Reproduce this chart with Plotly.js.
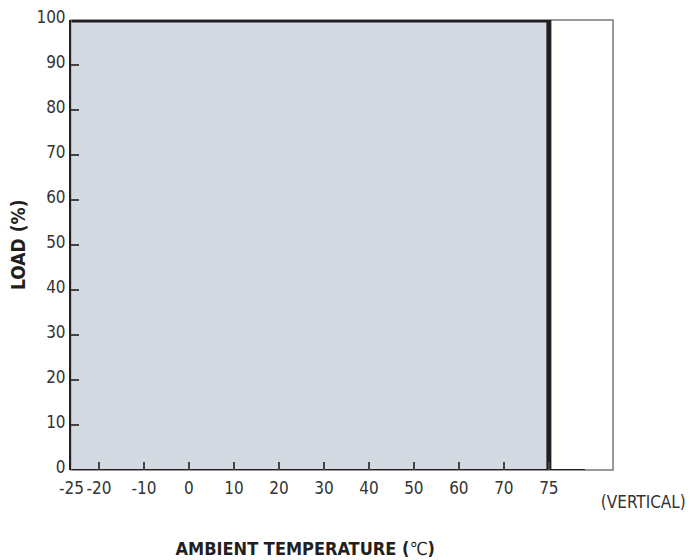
<!DOCTYPE html>
<html>
<head>
<meta charset="utf-8">
<script src="https://cdn.plot.ly/plotly-3.0.1.min.js"></script>
<style>html,body{margin:0;padding:0;background:#fff;}#chart{width:690px;height:560px;}
#chart text {font-stretch: condensed;}
</style>
</head>
<body>
<div id="chart"></div>
<script>
// ---- data ----
const curveTemp = [-25, 75, 75];     // derating curve, ambient temperature (°C)
const curveLoad = [100, 100, 0];     // load (%)
const baseTemp = [-25, 79];          // curve continues along 0 % load
const baseLoad = [0, 0];
const xTickTemps = [-25, -20, -10, 0, 10, 20, 30, 40, 50, 60, 70, 75];
const xTickText = ['-25', '-20', '-10', '0', '10', '20', '30', '40', '50', '60', '70', '75'];
const yTicks = [0, 10, 20, 30, 40, 50, 60, 70, 80, 90, 100];

// The printed temperature scale is not uniform: the -25 and 75 steps are drawn
// stretched. Map temperature to the drawn scale piecewise.
function pos(t) {
  if (t > 70) return 70 + (t - 70) * 2;
  if (t < -20) return -20 + (t + 20) * 1.22;
  return t;
}

const ink = '#231f20';
const fam = '"DejaVu Sans", sans-serif';

const traces = [
  {
    x: curveTemp.slice(0, 2).map(pos), y: curveLoad.slice(0, 2),
    type: 'scatter', mode: 'lines', fill: 'tozeroy', fillcolor: '#d3dae2',
    line: {width: 0, color: 'rgba(0,0,0,0)'}, hoverinfo: 'skip', showlegend: false
  },
  {
    x: baseTemp.map(pos), y: baseLoad,
    type: 'scatter', mode: 'lines', line: {color: ink, width: 2.2},
    showlegend: false, cliponaxis: false
  },
  {
    x: curveTemp.map(pos), y: curveLoad,
    type: 'scatter', mode: 'lines', line: {color: ink, width: 5},
    showlegend: false, cliponaxis: false
  }
];

const layout = {
  width: 690, height: 560,
  margin: {l: 71, r: 77, t: 20, b: 90},
  paper_bgcolor: '#ffffff', plot_bgcolor: '#ffffff',
  showlegend: false,
  font: {family: fam, size: 17, color: '#333333'},
  xaxis: {
    range: [-26.2, 94.25], showgrid: false, zeroline: false, showline: false,
    tickmode: 'array', tickvals: xTickTemps.map(pos), ticktext: xTickText, tickangle: 0,
    ticks: 'inside', ticklen: 8, tickwidth: 1.3, tickcolor: '#444', ticklabelstandoff: 6,
    tickfont: {family: fam, size: 17, color: '#333'}, fixedrange: true
  },
  yaxis: {
    range: [0, 100], showgrid: false, zeroline: false,
    showline: true, linecolor: ink, linewidth: 2,
    tickmode: 'array', tickvals: yTicks, ticklabelshift: -3,
    ticks: 'inside', ticklen: 8, tickwidth: 1.3, tickcolor: '#444',
    tickfont: {family: fam, size: 17, color: '#333'}, fixedrange: true
  },
  shapes: [
    {type: 'rect', xref: 'paper', yref: 'paper', x0: 0, x1: 1, y0: 0, y1: 1,
     line: {color: '#7a7a7a', width: 1.5}, layer: 'below'}
  ],
  annotations: [
    {text: '<b>AMBIENT TEMPERATURE (</b>℃<b>)</b>', xref: 'paper', yref: 'paper',
     x: (305 - 71) / 542, y: -(548 - 470) / 450, xanchor: 'center', yanchor: 'middle',
     showarrow: false, font: {family: fam, size: 18, color: ink}},
    {text: '<b>LOAD (%)</b>', xref: 'paper', yref: 'paper', textangle: -90,
     x: -(71 - 18) / 542, y: 0.5, xanchor: 'center', yanchor: 'middle',
     showarrow: false, font: {family: fam, size: 19, color: ink}},
    {text: '(VERTICAL)', xref: 'paper', yref: 'paper',
     x: (643 - 71) / 542, y: -(502 - 470) / 450, xanchor: 'center', yanchor: 'middle',
     showarrow: false, font: {family: fam, size: 17, color: '#333'}}
  ]
};

Plotly.newPlot('chart', traces, layout, {displayModeBar: false, staticPlot: true});
</script>
</body>
</html>
